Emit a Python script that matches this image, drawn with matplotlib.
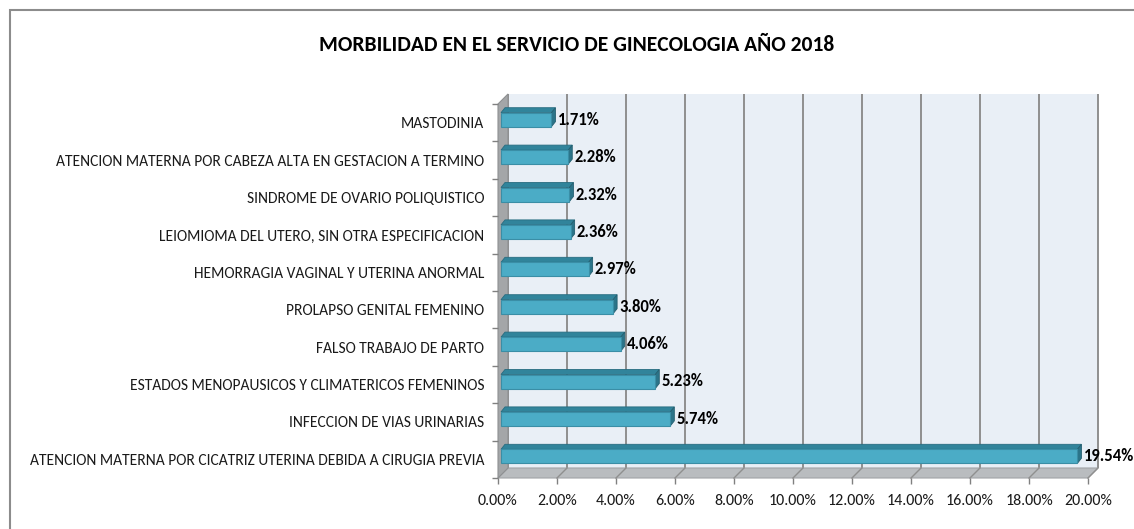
import matplotlib
matplotlib.use('Agg')
import matplotlib.pyplot as plt
from matplotlib.patches import Polygon, Rectangle

plt.rcParams['font.family'] = ['Carlito', 'DejaVu Sans']

title = "MORBILIDAD EN EL SERVICIO DE GINECOLOGIA AÑO 2018"
categories = [
    "MASTODINIA",
    "ATENCION MATERNA POR CABEZA ALTA EN GESTACION A TERMINO",
    "SINDROME DE OVARIO POLIQUISTICO",
    "LEIOMIOMA DEL UTERO, SIN OTRA ESPECIFICACION",
    "HEMORRAGIA VAGINAL Y UTERINA ANORMAL",
    "PROLAPSO GENITAL FEMENINO",
    "FALSO TRABAJO DE PARTO",
    "ESTADOS MENOPAUSICOS Y CLIMATERICOS FEMENINOS",
    "INFECCION DE VIAS URINARIAS",
    "ATENCION MATERNA POR CICATRIZ UTERINA DEBIDA A CIRUGIA PREVIA",
]
values = [1.71, 2.28, 2.32, 2.36, 2.97, 3.80, 4.06, 5.23, 5.74, 19.54]
xticks = [0, 2, 4, 6, 8, 10, 12, 14, 16, 18, 20]
xtick_labels = [f"{t:.2f}%" for t in xticks]
value_labels = [f"{v:.2f}%" for v in values]

W, H = 1134, 529
fig = plt.figure(figsize=(W / 100, H / 100), dpi=100)
fig.patch.set_facecolor('white')

# outer border (left/top visible)
fig.patches.append(Rectangle((10 / W, -0.2), 2.0, 1.2 - 10 / H, transform=fig.transFigure,
                             fill=False, edgecolor='#8c8c8c', lw=1.5))

L, R, T, B = 498, 1088, 104, 478
ax = fig.add_axes([L / W, 1 - B / H, (R - L) / W, (B - T) / H])
n = len(categories)
xmax = xticks[-1]
ax.set_xlim(0, xmax)
ax.set_ylim(n - 0.5, -0.5)
ax.patch.set_visible(False)
for s in ax.spines.values():
    s.set_visible(False)

px = xmax / (R - L)
py = n / (B - T)
bx, by = 10 * px, 10 * py
ytop, ybot = -0.5, n - 0.5

# back wall
ax.add_patch(Polygon([(bx, ytop - by), (xmax + bx, ytop - by), (xmax + bx, ybot - by), (bx, ybot - by)],
                     closed=True, facecolor='#e9eff6', edgecolor='none', zorder=0, clip_on=False))
# floor
ax.add_patch(Polygon([(0, ybot), (xmax, ybot), (xmax + bx, ybot - by), (bx, ybot - by)],
                     closed=True, facecolor='#b9bcbf', edgecolor='#a0a3a6', lw=0.8, zorder=1, clip_on=False))
# left wall
ax.add_patch(Polygon([(0, ytop), (0, ybot), (bx, ybot - by), (bx, ytop - by)],
                     closed=True, facecolor='#a4a6a8', edgecolor='#8e9092', lw=0.8, zorder=1, clip_on=False))
# grid lines
for t in xticks:
    ax.plot([t + bx, t + bx], [ytop - by, ybot - by], color='#8f8f8f', lw=1.4, zorder=0.5, clip_on=False,
            solid_capstyle='butt')
    if t > 0:
        ax.plot([t, t + bx], [ybot, ybot - by], color='#8f8f8f', lw=1.0, zorder=1.5, clip_on=False)

# bars with 3D look
ox, oy = 3 * px, 3 * py
tx, ty = 4 * px, 5 * py
h = 14 * py
for i, v in enumerate(values):
    yc = i - oy
    y0, y1 = yc - h / 2, yc + h / 2
    x0, x1 = ox, v + ox
    # top face
    ax.add_patch(Polygon([(x0, y0), (x1, y0), (x1 + tx, y0 - ty), (x0 + tx, y0 - ty)], closed=True,
                         facecolor='#31849b', edgecolor='#276c80', lw=0.6, zorder=3, clip_on=False))
    # end face
    ax.add_patch(Polygon([(x1, y0), (x1 + tx, y0 - ty), (x1 + tx, y1 - ty), (x1, y1)], closed=True,
                         facecolor='#2b7489', edgecolor='#245f70', lw=0.6, zorder=3, clip_on=False))
    # front face
    ax.barh(yc, v, left=x0, height=h, color='#4bacc6', edgecolor='#3a8ea6', lw=0.8, zorder=4, clip_on=False)
    ax.text(x1 + tx + 2 * px, yc, value_labels[i], ha='left', va='center', fontsize=12,
            fontweight='bold', color='black', zorder=5)

# axes ticks
ax.set_xticks(xticks)
ax.set_xticklabels(xtick_labels)
ax.tick_params(axis='x', direction='out', length=4.5, width=1, color='#808080', labelsize=11.5, pad=7,
               labelcolor='#1a1a1a')
ax.set_yticks(range(n))
ax.set_yticklabels(categories)
ax.set_yticks([k - 0.5 for k in range(n + 1)], minor=True)
ax.tick_params(axis='y', which='major', length=0, pad=10, labelsize=11.2, labelcolor='#1a1a1a')
ax.tick_params(axis='y', which='minor', direction='out', length=4, width=1, color='#808080')

fig.text(577 / W, 1 - 45 / H, title, ha='center', va='center', fontsize=15.5, fontweight='bold', color='black')

fig.savefig('out.png', dpi=100)
